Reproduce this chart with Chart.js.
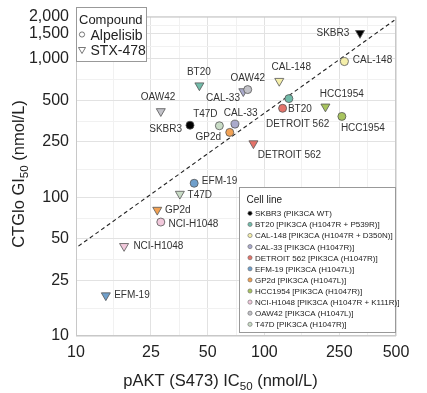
<!DOCTYPE html>
<html>
<head>
<meta charset="utf-8">
<script src="https://cdn.jsdelivr.net/npm/chart.js@4.4.1/dist/chart.umd.min.js"></script>
<style>
html,body{margin:0;padding:0;background:#fff;}
#wrap{width:427px;height:393px;position:relative;}
</style>
</head>
<body>
<div id="wrap"><canvas id="c" width="427" height="393"></canvas></div>
<script>
// ---------- DATA ----------
const cellLines = ['SKBR3','BT20','CAL-148','CAL-33','DETROIT 562','EFM-19','GP2d','HCC1954','NCI-H1048','OAW42','T47D'];
const mutations = ['(PIK3CA WT)','[PIK3CA (H1047R + P539R)]','[PIK3CA (H1047R + D350N)]','[PIK3CA (H1047R)]','[PIK3CA (H1047R)]','[PIK3CA (H1047L)]','[PIK3CA (H1047L)]','[PIK3CA (H1047R)]','[PIK3CA (H1047R + K111R)]','[PIK3CA (H1047L)]','[PIK3CA (H1047R)]'];
const alpelisibIC50 = [40.3, 135, 266, 69.8, 125, 42.4, 65.5, 258, 28.2, 81.6, 57.7];
const alpelisibGI50 = [330, 513, 948, 336, 437, 126, 293, 382, 66.2, 596, 327];
const stx478IC50 = [322, 45.2, 120, 77.3, 87.5, 14.4, 27.0, 211, 18.0, 28.2, 35.6];
const stx478GI50 = [1520, 638, 687, 579, 244, 19.6, 81, 449, 44.4, 416, 105.6];
const refLineX = [10.3, 490];
const refLineY = [44.4, 1884];
const xTickValues = [10, 25, 50, 100, 250, 500];
const yTickValues = [10, 25, 50, 100, 250, 500, 1000, 1500, 2000];

// ---------- STYLE ----------
const cellColors = ['#000000','#72bcaa','#f5efaa','#aaaacc','#e5736a','#6f9fcb','#f2a254','#a8c45e','#f2c9dc','#c2c2c8','#c9dcc6'];
// label placement: [align, dx, dy] relative to point
const alpLabelPos = [['right',-8,3],['left',-1,10],['left',8.4,-2],['center',5.7,-12],['center',15,15],['left',7.7,-3],['right',-8.7,4],['left',-1,11],['left',7.6,1],['center',0,-12],['center',-14,-12]];
const stxLabelPos = [['right',-10.7,-1],['center',-0.5,-14],['center',12,-15],['right',-3.3,6],['left',4.4,10.5],['left',8.3,-0.7],['left',7.7,-0.7],['center',16.4,-13.3],['left',9.3,-1],['center',-2.7,-14.7],['left',7.7,0.7]];
const FONT = '"Liberation Sans", Arial, Helvetica, sans-serif';

function minorOf(vals){ const m=[]; for(let i=0;i<vals.length-1;i++) m.push(Math.sqrt(vals[i]*vals[i+1])); return m; }
const xMinor = minorOf(xTickValues), yMinor = minorOf(yTickValues);
function buildTicks(major, minor){ return major.map(v=>({value:v, minorTick:false})).concat(minor.map(v=>({value:v, minorTick:true}))).sort((a,b)=>a.value-b.value); }
function gridColor(ctx){ return ctx.tick && ctx.tick.minorTick ? '#f1f1f1' : '#e2e2e2'; }
function fmt(v){ return Number(v).toLocaleString('en-US'); }

const labelPlugin = {
  id:'labels',
  beforeDatasetsDraw(chart){
    const a = chart.chartArea, ctx = chart.ctx;
    ctx.save();
    ctx.strokeStyle = '#c8c8c8'; ctx.lineWidth = 1;
    ctx.strokeRect(a.left+0.5, a.top+0.5, a.right-a.left-1, a.bottom-a.top-1);
    ctx.restore();
  },
  afterDatasetsDraw(chart){
    const ctx = chart.ctx;
    ctx.save();
    ctx.font = '10px ' + FONT;
    ctx.fillStyle = '#333';
    ctx.textBaseline = 'alphabetic';
    [[0, alpLabelPos],[1, stxLabelPos]].forEach(([di, pos])=>{
      const meta = chart.getDatasetMeta(di);
      meta.data.forEach((el,i)=>{
        const p = pos[i];
        ctx.textAlign = p[0];
        ctx.fillText(cellLines[i], el.x + p[1], el.y + p[2] + 3.6);
      });
    });
    ctx.restore();
  },
  afterDraw(chart){
    const ctx = chart.ctx;
    ctx.save();
    // Compound legend
    ctx.fillStyle = '#fff'; ctx.strokeStyle = '#999'; ctx.lineWidth = 1;
    ctx.fillRect(76, 7, 71, 55); ctx.strokeRect(76.5, 7.5, 70, 54);
    ctx.fillStyle = '#222'; ctx.textAlign = 'left'; ctx.textBaseline = 'alphabetic';
    ctx.font = '13px ' + FONT; ctx.fillText('Compound', 79, 24);
    ctx.font = '14px ' + FONT;
    ctx.fillText('Alpelisib', 90.5, 39.5);
    ctx.fillText('STX-478', 90.5, 55);
    ctx.strokeStyle = '#555'; ctx.lineWidth = 0.8;
    ctx.beginPath(); ctx.arc(82, 34.5, 2.6, 0, Math.PI*2); ctx.stroke();
    ctx.beginPath(); ctx.moveTo(78.5, 47.5); ctx.lineTo(85.5, 47.5); ctx.lineTo(82, 53.5); ctx.closePath(); ctx.stroke();
    // Cell line legend
    ctx.fillStyle = '#fff'; ctx.strokeStyle = '#999'; ctx.lineWidth = 1;
    ctx.fillRect(239, 187, 157, 146); ctx.strokeRect(239.5, 187.5, 156, 145);
    ctx.fillStyle = '#222'; ctx.font = '10px ' + FONT;
    ctx.fillText('Cell line', 246.5, 203);
    ctx.font = '8px ' + FONT;
    cellLines.forEach((c,i)=>{
      const y = 213.3 + i*11.1;
      ctx.beginPath(); ctx.arc(250, y, 2.1, 0, Math.PI*2);
      ctx.fillStyle = cellColors[i]; ctx.fill();
      ctx.strokeStyle = '#666'; ctx.lineWidth = 0.6; ctx.stroke();
      ctx.fillStyle = '#222';
      ctx.fillText(c + ' ' + mutations[i], 255, y + 2.9);
    });
    // Axis titles with subscripts
    function drawTitle(parts, size){
      let w = 0;
      parts.forEach(p=>{ ctx.font = (p[1]? size*0.7 : size) + 'px ' + FONT; w += ctx.measureText(p[0]).width; });
      let x = -w/2;
      parts.forEach(p=>{
        const s = p[1]? size*0.7 : size;
        ctx.font = s + 'px ' + FONT;
        ctx.fillText(p[0], x, p[1] ? size*0.36+size*0.22 : size*0.36);
        x += ctx.measureText(p[0]).width;
      });
    }
    ctx.fillStyle = '#222'; ctx.textAlign = 'left'; ctx.textBaseline = 'alphabetic';
    ctx.save(); ctx.translate(220.5, 380);
    drawTitle([['pAKT (S473) IC',0],['50',1],[' (nmol/L)',0]], 16.5);
    ctx.restore();
    ctx.save(); ctx.translate(18, 174); ctx.rotate(-Math.PI/2);
    drawTitle([['CTGlo GI',0],['50',1],[' (nmol/L)',0]], 16.5);
    ctx.restore();
    ctx.restore();
  }
};

const mk = (xs, ys) => xs.map((x,i)=>({x:x, y:ys[i]}));

new Chart(document.getElementById('c'), {
  type:'scatter',
  data:{
    datasets:[
      { label:'Alpelisib', data: mk(alpelisibIC50, alpelisibGI50), pointStyle:'circle', pointRadius:4, pointHoverRadius:4,
        backgroundColor: cellColors, borderColor:'#555', borderWidth:0.8, order:1 },
      { label:'STX-478', data: mk(stx478IC50, stx478GI50), pointStyle:'triangle', pointRotation:180, pointRadius:5.2, pointHoverRadius:5.2,
        backgroundColor: cellColors, borderColor:'#555', borderWidth:0.8, order:2 },
      { type:'line', label:'ref', data: mk(refLineX, refLineY), borderColor:'#222', borderWidth:1.1, borderDash:[4,3],
        pointRadius:0, fill:false, order:3 }
    ]
  },
  options:{
    responsive:false, animation:false, devicePixelRatio:1,
    layout:{ padding:{ top:7, right:31, left:0, bottom:0 } },
    plugins:{ legend:{display:false}, tooltip:{enabled:false} },
    scales:{
      x:{ type:'logarithmic', min:10, max:500,
        afterBuildTicks: s => { s.ticks = buildTicks(xTickValues, xMinor); },
        afterFit: s => { s.height = 57; },
        grid:{ color: gridColor, drawTicks:false, lineWidth:1 },
        border:{ display:false },
        ticks:{ autoSkip:false, maxRotation:0, padding:7, color:'#222', font:{ family: FONT, size:16 },
          callback:(v,i,t)=> t[i].minorTick ? '' : fmt(v) } },
      y:{ type:'logarithmic', min:10, max:2000,
        afterBuildTicks: s => { s.ticks = buildTicks(yTickValues, yMinor); },
        afterFit: s => { s.width = 76; },
        grid:{ color: gridColor, drawTicks:false, lineWidth:1 },
        border:{ display:false },
        ticks:{ autoSkip:false, padding:7, color:'#222', font:{ family: FONT, size:16 },
          callback:(v,i,t)=> t[i].minorTick ? '' : fmt(v) } }
    }
  },
  plugins:[labelPlugin]
});
</script>
</body>
</html>
